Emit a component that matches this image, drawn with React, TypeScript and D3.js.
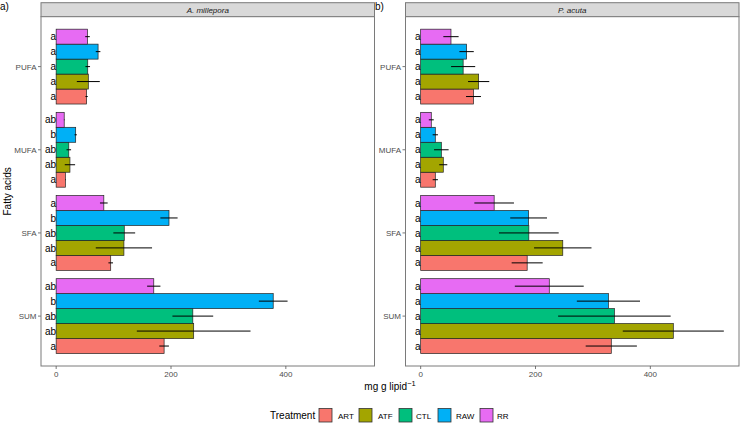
import React from "react";
import * as d3 from "d3";

const categories = ["SUM", "SFA", "MUFA", "PUFA"];
const treatments = ["ART", "ATF", "CTL", "RAW", "RR"];
const colors = ["#F8766D", "#A3A500", "#00BF7D", "#00B0F6", "#E76BF3"];
const xTicks = [0, 200, 400];

// values per category (SUM, SFA, MUFA, PUFA) per treatment (ART, ATF, CTL, RAW, RR)
const milleporaMean = [
  [188, 239.5, 238, 378, 170],
  [95, 118, 118.6, 196.5, 83],
  [16, 24, 22, 34, 14],
  [53, 56, 55, 73, 54.6],
];
const milleporaErr = [
  [8.4, 99, 35.5, 25, 11.6],
  [4, 49, 19, 15, 6.7],
  [0.5, 9, 4, 2, 0.5],
  [2, 20, 4, 4, 4],
];
const milleporaLetters = [
  ["a", "ab", "ab", "b", "ab"],
  ["a", "ab", "ab", "b", "a"],
  ["a", "ab", "ab", "b", "ab"],
  ["a", "a", "a", "a", "a"],
];
const acutaMean = [
  [332, 440, 337.4, 327, 224],
  [185.5, 247.5, 188.4, 188, 128],
  [25.5, 39.4, 36, 25.5, 18.5],
  [92, 101, 74, 80, 52.8],
];
const acutaErr = [
  [44.6, 88, 98, 55, 60],
  [27, 50, 52, 32, 34.5],
  [4.6, 7, 12.7, 4.6, 4.3],
  [13, 18.5, 21, 12.5, 13.3],
];
const acutaLetters = [
  ["a", "a", "a", "a", "a"],
  ["a", "a", "a", "a", "a"],
  ["a", "a", "a", "a", "a"],
  ["a", "a", "a", "a", "a"],
];

const W = 740;
const H = 423;
const font = "Liberation Sans, Arial, Helvetica, sans-serif";
const panelTop = 16.7;
const panelBottom = 366;
const stripTop = 2.7;
const borderColor = "#7a7a7a";

type PanelProps = {
  x0: number;
  x1: number;
  title: string;
  means: number[][];
  errs: number[][];
  letters: string[][];
  tag: string;
  tagX: number;
};

function Panel({ x0, x1, title, means, errs, letters, tag, tagX }: PanelProps) {
  const maxV = 528;
  const x = d3.scaleLinear().domain([-0.05 * maxV, maxV * 1.05]).range([x0, x1]);
  const y = d3.scaleLinear().domain([0.4, categories.length + 0.6]).range([panelBottom, panelTop]);
  const barW = 0.9 / treatments.length;
  const barPx = Math.abs(y(0) - y(barW));
  return (
    <g>
      <text x={tagX} y={10} fontSize={10} fontFamily={font} fill="#000">{tag}</text>
      <rect x={x0} y={stripTop} width={x1 - x0} height={panelTop - stripTop} fill="#d9d9d9" stroke={borderColor} strokeWidth={1} />
      <text x={(x0 + x1) / 2} y={(stripTop + panelTop) / 2 + 3} fontSize={8} fontStyle="italic" fontFamily={font} fill="#1a1a1a" textAnchor="middle">{title}</text>
      <rect x={x0} y={panelTop} width={x1 - x0} height={panelBottom - panelTop} fill="#fff" stroke="none" />
      {categories.map((c, ci) => (
        <g key={c}>
          {treatments.map((t, ti) => {
            const center = ci + 1 - 0.45 + barW * (ti + 0.5);
            const yc = y(center);
            const v = means[ci][ti];
            const e = errs[ci][ti];
            return (
              <g key={t}>
                <rect x={x(0)} y={yc - barPx / 2} width={x(v) - x(0)} height={barPx} fill={colors[ti]} stroke="#222" strokeWidth={0.7} />
                <line x1={x(v - e)} x2={x(v + e)} y1={yc} y2={yc} stroke="#000" strokeWidth={1} />
                <text x={x(0)} y={yc + 3.6} fontSize={10} fontFamily={font} textAnchor="end" fill="#000">{letters[ci][ti]}</text>
              </g>
            );
          })}
          <line x1={x0 - 3} x2={x0} y1={y(ci + 1)} y2={y(ci + 1)} stroke="#555" strokeWidth={0.8} />
          <text x={x0 - 4.5} y={y(ci + 1) + 3} fontSize={8} fontFamily={font} fill="#4d4d4d" textAnchor="end">{c}</text>
        </g>
      ))}
      <rect x={x0} y={panelTop} width={x1 - x0} height={panelBottom - panelTop} fill="none" stroke={borderColor} strokeWidth={1} />
      {xTicks.map((tv) => (
        <g key={tv}>
          <line x1={x(tv)} x2={x(tv)} y1={panelBottom} y2={panelBottom + 3} stroke="#555" strokeWidth={0.8} />
          <text x={x(tv)} y={panelBottom + 10.5} fontSize={8} fontFamily={font} fill="#4d4d4d" textAnchor="middle">{tv}</text>
        </g>
      ))}
    </g>
  );
}

export default function App() {
  const legendItems = [
    { k: 319, t: 338 },
    { k: 359, t: 378 },
    { k: 399, t: 416 },
    { k: 438, t: 456 },
    { k: 480, t: 497 },
  ];
  return (
    <svg width={W} height={H} style={{ position: "absolute", left: 0, top: 0, background: "#fff" }}>
      <rect width={W} height={H} fill="#fff" />
      <Panel x0={41} x1={374.5} title="A. millepora" means={milleporaMean} errs={milleporaErr} letters={milleporaLetters} tag="a)" tagX={0} />
      <Panel x0={405.5} x1={739} title="P. acuta" means={acutaMean} errs={acutaErr} letters={acutaLetters} tag="b)" tagX={375} />
      <text transform={`translate(11, ${(panelTop + panelBottom) / 2}) rotate(-90)`} fontSize={10} fontFamily={font} fill="#000" textAnchor="middle">Fatty acids</text>
      <text x={390} y={390} fontSize={10} fontFamily={font} fill="#000" textAnchor="middle">
        mg g lipid<tspan dy={-4} fontSize={7.5}>−1</tspan>
      </text>
      <text x={270} y={419} fontSize={10} fontFamily={font} fill="#000">Treatment</text>
      {treatments.map((t, i) => (
        <g key={t}>
          <rect x={legendItems[i].k} y={408.5} width={13} height={13.5} fill={colors[i]} stroke="#333" strokeWidth={0.8} />
          <text x={legendItems[i].t} y={418.5} fontSize={8} fontFamily={font} fill="#000">{t}</text>
        </g>
      ))}
    </svg>
  );
}
